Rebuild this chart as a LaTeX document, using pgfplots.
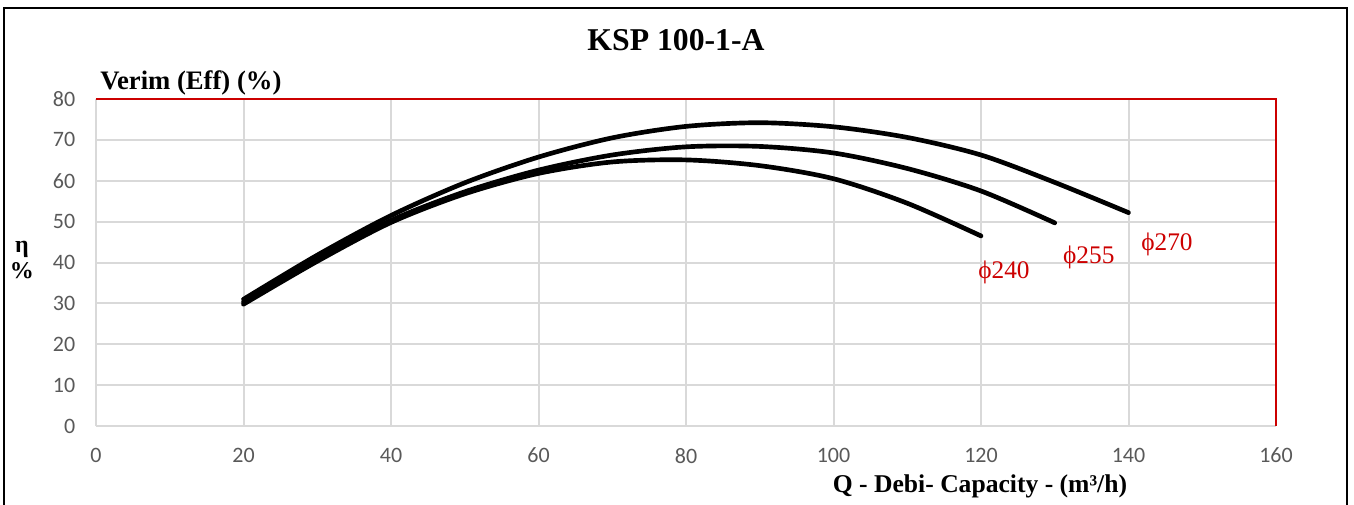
\documentclass[border=0pt]{standalone}
\usepackage{fontspec}
\setmainfont{Liberation Serif}
\newfontfamily\carlito{Carlito}
\usepackage{pgfplots}
\pgfplotsset{compat=1.18}
\definecolor{gridgray}{RGB}{217,217,217}
\definecolor{ticktext}{RGB}{89,89,89}
\definecolor{excelred}{RGB}{204,0,0}

\begin{document}
\begin{tikzpicture}
\useasboundingbox (-72pt,-58.5pt) rectangle (943.5pt,319.5pt);
% outer frame
\draw[line width=2.2pt] (-69pt,-70pt) -- (-69pt,313.5pt) -- (938.25pt,313.5pt) -- (938.25pt,-70pt);
\begin{axis}[
  at={(0,0)}, anchor=south west,
  scale only axis, width=885pt, height=245.25pt,
  xmin=0, xmax=160, ymin=0, ymax=80,
  xtick distance=20, ytick distance=10,
  grid=major,
  major grid style={gridgray, line width=1.5pt},
  axis line style={draw=none},
  tick style={draw=none},
  /pgf/number format/assume math mode=true,
  tick label style={font=\carlito\fontsize{16.5}{18}\selectfont, text=ticktext},
  xticklabel style={yshift=-13pt},
  yticklabel style={xshift=-12pt},
  curve/.style={black, no marks, line width=3.5pt, smooth, line cap=round},
]
% phi 270
\addplot[curve] coordinates {(20,31) (30,41.8) (40,51.5) (50,59.5) (60,65.8) (70,70.5) (80,73.3) (90,74.2) (100,73.2) (110,70.6) (120,66.3) (130,59.6) (140,52.2)};
% phi 255
\addplot[curve] coordinates {(20,30.3) (30,40.8) (40,50.3) (50,57.3) (60,62.6) (70,66.3) (80,68.3) (90,68.4) (100,66.8) (110,63) (120,57.5) (130,49.7)};
% phi 240
\addplot[curve] coordinates {(20,29.8) (30,40.3) (40,49.8) (50,56.8) (60,61.8) (70,64.6) (80,65.1) (90,63.7) (100,60.5) (110,54.5) (120,46.5)};
\node[anchor=west, text=excelred, font=\fontsize{19}{20}\selectfont, inner sep=0pt] at (axis cs:119.6,37.7) {ϕ240};
\node[anchor=west, text=excelred, font=\fontsize{19}{20}\selectfont, inner sep=0pt] at (axis cs:131.1,41.2) {ϕ255};
\node[anchor=west, text=excelred, font=\fontsize{19}{20}\selectfont, inner sep=0pt] at (axis cs:141.7,44.5) {ϕ270};
\end{axis}
% red plot-area border (top and right)
\draw[excelred, line width=1.6pt] (0,245.25pt) -- (885pt,245.25pt) -- (885pt,0);
% title and labels
\node[font=\bfseries\fontsize{23.8}{25}\selectfont] at (435pt,289.5pt) {KSP 100-1-A};
\node[anchor=base west, inner sep=0pt, font=\bfseries\fontsize{20}{22}\selectfont] at (3pt,252pt) {Verim (Eff) (\%)};
\node[align=center, font=\bfseries\fontsize{18}{19}\selectfont] at (-55.5pt,124.5pt) {η\\\%};
\node[font=\bfseries\fontsize{19.2}{20}\selectfont] at (663pt,-45.5pt) {Q - Debi- Capacity - (m³/h)};
\end{tikzpicture}
\end{document}
